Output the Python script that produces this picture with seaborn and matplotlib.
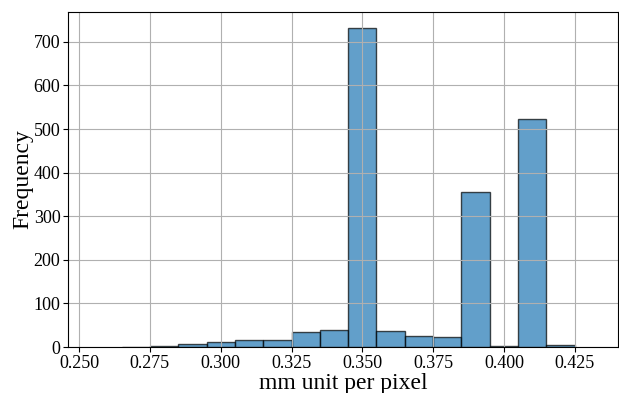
import numpy as np
import matplotlib
matplotlib.use("Agg")
import matplotlib.pyplot as plt
import seaborn as sns

# bin centres (mm per pixel) and counts
bin_centers = [0.27, 0.28, 0.29, 0.30, 0.31, 0.32, 0.33, 0.34, 0.35,
               0.36, 0.37, 0.38, 0.39, 0.40, 0.41, 0.42]
counts = [1, 3, 8, 11, 15, 15, 34, 38, 732, 36, 25, 23, 356, 2, 523, 4]
bin_width = 0.01

plt.rcParams['font.family'] = ['Liberation Serif', 'DejaVu Serif']

fig, ax = plt.subplots(figsize=(6.19, 3.93), dpi=100)
sns.histplot(x=bin_centers, weights=counts, binwidth=bin_width,
             binrange=(bin_centers[0] - bin_width / 2, bin_centers[-1] + bin_width / 2),
             ax=ax, color='tab:blue', alpha=0.7, edgecolor=(0, 0, 0, 0.7), linewidth=1)

ax.grid(True)
ax.set_xlim(0.2461, 0.4402)
ax.set_ylim(0, 769)
ax.set_xticks([0.250, 0.275, 0.300, 0.325, 0.350, 0.375, 0.400, 0.425])
ax.set_xlabel('mm unit per pixel', fontsize=17, labelpad=1)
ax.set_ylabel('Frequency', fontsize=17, labelpad=0)
ax.tick_params(labelsize=13, pad=2)

fig.subplots_adjust(left=0.110, right=0.998, top=0.970, bottom=0.117)
fig.savefig('out.png', dpi=100)
